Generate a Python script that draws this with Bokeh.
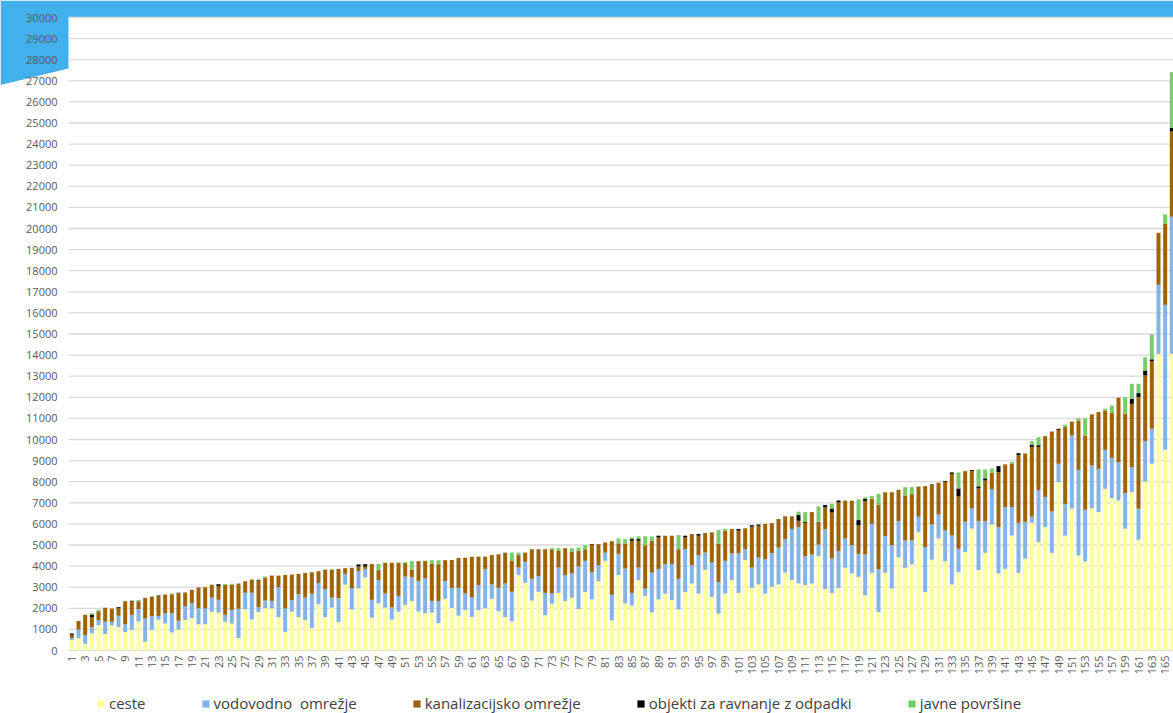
import math
from bokeh.plotting import figure
from bokeh.models import ColumnDataSource, Range1d, Legend, LegendItem
from bokeh.core.properties import value
from bokeh.embed import file_html
from bokeh.resources import INLINE

# ---- data -----------------------------------------------------------------
categories = list(range(1, 167))

ceste = [
    480, 580, 320, 800, 1200, 780, 1180, 1100, 880, 980,
    1380, 420, 980, 1460, 1280, 850, 990, 1440, 1540, 1250,
    1250, 1840, 1790, 1360, 1280, 580, 1950, 1470, 1820, 2010,
    2000, 1580, 880, 1840, 1580, 1440, 1070, 2190, 1580, 2030,
    1340, 3120, 1940, 2940, 3460, 1550, 2240, 2030, 1470, 1840,
    2160, 2350, 1840, 1760, 1790, 1300, 2450, 2020, 1650, 1910,
    1590, 1910, 2000, 2450, 1860, 1590, 1380, 3580, 3210, 2370,
    2780, 1670, 2210, 2730, 2340, 2500, 1970, 2770, 2420, 3290,
    4250, 1430, 3580, 2230, 2130, 3340, 2580, 1810, 2420, 2690,
    2390, 1940, 2770, 3180, 2690, 3820, 2540, 1750, 2700, 3340,
    2730, 4290, 2970, 3130, 2700, 3020, 3130, 3690, 3340, 3180,
    3100, 3180, 4470, 2920, 2720, 2970, 3920, 3650, 3490, 2610,
    3680, 1820, 3680, 2940, 4420, 3920, 4080, 5610, 2770, 4300,
    5310, 4230, 3130, 3710, 4660, 5780, 3810, 4630, 5970, 3650,
    3870, 5450, 3680, 4350, 6050, 5140, 5850, 4630, 7980, 5450,
    6720, 4500, 4220, 6750, 6560, 7660, 7220, 7110, 5770, 7510,
    5250, 8010, 8850, 14060, 9510, 14060,
]

vodovodno = [
    100, 420, 420, 300, 240, 580, 180, 550, 370, 720,
    570, 1100, 650, 170, 480, 910, 420, 670, 700, 750,
    750, 670, 610, 340, 640, 1400, 790, 1270, 230, 360,
    350, 1420, 1120, 540, 1090, 1070, 1620, 1010, 1330, 480,
    1140, 510, 1000, 820, 410, 850, 1090, 670, 580, 750,
    1340, 1120, 1460, 1660, 560, 1040, 840, 950, 1320, 790,
    940, 1190, 1850, 680, 1110, 1590, 1400, 350, 990, 1030,
    750, 1060, 490, 1200, 1240, 1160, 2010, 1480, 1300, 750,
    390, 1210, 1000, 1650, 600, 590, 350, 1880, 1430, 1400,
    1700, 1460, 2030, 870, 1830, 820, 1630, 1490, 1550, 1260,
    1870, 510, 960, 1270, 1620, 1590, 1750, 1590, 2420, 2660,
    1370, 1370, 550, 2820, 1640, 1740, 1390, 1340, 1090, 1940,
    2320, 2020, 1740, 2050, 1710, 1290, 1130, 730, 2130, 1670,
    1140, 1460, 2320, 1110, 1440, 950, 2320, 1500, 1660, 2200,
    2920, 1340, 2370, 1750, 290, 2460, 1430, 1960, 870, 1500,
    3470, 4060, 2450, 2020, 2050, 1850, 1910, 1820, 1690, 1180,
    1470, 1910, 1660, 3270, 6870, 6500,
]

kanalizacijsko = [
    170, 400, 950, 480, 420, 670, 620, 380, 1090, 620,
    390, 980, 930, 940, 880, 910, 1300, 640, 640, 980,
    1000, 600, 660, 1420, 1200, 1200, 540, 620, 1240, 1090,
    1200, 550, 1580, 1220, 960, 1170, 1020, 560, 910, 1310,
    1390, 270, 980, 220, 110, 1700, 480, 1460, 2110, 1570,
    640, 370, 940, 820, 1760, 1750, 990, 1320, 1420, 1700,
    1910, 1350, 600, 1390, 1590, 1430, 1470, 590, 440, 1400,
    1270, 2070, 2100, 790, 1270, 1010, 740, 550, 1290, 1000,
    480, 2540, 500, 1190, 2470, 1270, 2060, 1510, 1510, 1350,
    1350, 1400, 560, 1470, 920, 930, 1430, 1830, 1430, 1160,
    1080, 990, 1940, 1510, 1680, 1420, 1350, 1080, 600, 310,
    1580, 2010, 1080, 1050, 2180, 2310, 1790, 2110, 1350, 2530,
    1190, 3080, 2080, 2510, 1490, 2140, 2200, 1430, 2890, 1860,
    1500, 2300, 2920, 2480, 2400, 1770, 1550, 1930, 790, 2600,
    2030, 2070, 3210, 3240, 3310, 2050, 2880, 3790, 1610, 3640,
    660, 2340, 3520, 2420, 2690, 1870, 2150, 3050, 3760, 3000,
    5290, 3120, 3190, 2470, 3860, 4050,
]

objekti = [
    50, 0, 0, 100, 0, 0, 0, 30, 0, 40,
    0, 0, 0, 40, 0, 0, 30, 0, 0, 0,
    0, 0, 80, 0, 0, 0, 0, 0, 40, 0,
    0, 0, 0, 0, 0, 0, 0, 0, 0, 0,
    0, 0, 0, 100, 110, 0, 0, 0, 0, 0,
    0, 0, 0, 0, 0, 0, 0, 0, 0, 0,
    0, 0, 0, 0, 0, 20, 0, 0, 0, 0,
    0, 0, 0, 0, 0, 0, 0, 0, 30, 0,
    0, 0, 0, 0, 80, 80, 0, 0, 80, 0,
    0, 0, 80, 0, 80, 0, 0, 0, 0, 0,
    80, 0, 70, 60, 0, 0, 0, 0, 0, 270,
    60, 0, 0, 100, 190, 90, 0, 0, 250, 110,
    0, 0, 0, 0, 0, 0, 0, 0, 0, 40,
    0, 40, 70, 380, 0, 50, 100, 100, 0, 290,
    0, 0, 90, 0, 110, 80, 0, 0, 50, 0,
    0, 0, 0, 0, 0, 0, 0, 0, 0, 240,
    190, 230, 100, 0, 0, 150,
]

javne = [
    0, 0, 0, 100, 70, 0, 20, 0, 0, 0,
    50, 0, 0, 0, 20, 30, 0, 0, 0, 0,
    0, 20, 0, 30, 40, 0, 0, 0, 40, 50,
    0, 0, 0, 0, 0, 0, 0, 0, 30, 40,
    0, 0, 0, 0, 0, 0, 290, 0, 0, 20,
    50, 400, 0, 20, 170, 190, 0, 0, 0, 0,
    0, 0, 0, 0, 0, 0, 390, 120, 0, 0,
    0, 0, 50, 130, 0, 180, 160, 190, 0, 0,
    0, 0, 230, 210, 80, 130, 420, 210, 0, 0,
    0, 670, 0, 0, 0, 0, 0, 640, 80, 0,
    0, 0, 0, 0, 0, 0, 0, 0, 0, 160,
    450, 0, 730, 0, 220, 0, 0, 0, 980, 80,
    130, 510, 0, 0, 0, 390, 330, 0, 0, 0,
    0, 0, 0, 760, 0, 0, 800, 420, 210, 0,
    0, 80, 0, 0, 160, 380, 0, 0, 0, 110,
    0, 110, 820, 0, 0, 80, 330, 0, 790, 710,
    440, 630, 1180, 0, 420, 2650,
]

series_names = ["ceste", "vodovodno  omrežje", "kanalizacijsko omrežje",
                "objekti za ravnanje z odpadki", "javne površine"]
series_colors = ["#ffff9b", "#84b4e6", "#9e6404", "#000000", "#78cc6a"]
y_ticks = list(range(0, 30001, 1000))
x_tick_labels = list(range(1, 167, 2))

# ---- layout geometry (canvas pixels) ---------------------------------------
W, H = 1173, 713
PLOT_L, PLOT_T, PLOT_B = 68, 17, 650         # plot area inside the canvas
X_LO, X_HI = 0.5, 166.25                     # category range shown (last bar cut at edge)
Y_LO, Y_HI = 0, 30000
px_per_x = (W - PLOT_L) / (X_HI - X_LO)
px_per_y = (PLOT_B - PLOT_T) / (Y_HI - Y_LO)


def dx(px):
    return X_LO + (px - PLOT_L) / px_per_x


def dy(py):
    return Y_LO + (PLOT_B - py) / px_per_y


p = figure(width=W, height=H, output_backend="svg", toolbar_location=None,
           x_range=Range1d(dx(0), dx(W)), y_range=Range1d(dy(H), dy(0)),
           min_border=0, min_border_left=0, min_border_right=0,
           min_border_top=0, min_border_bottom=0)
p.axis.visible = False
p.grid.visible = False
p.outline_line_color = None
p.background_fill_color = "white"
p.border_fill_color = "white"

# banner (decoration)
p.patch(x=[dx(0), dx(W), dx(W), dx(PLOT_L), dx(PLOT_L), dx(6), dx(0)],
        y=[dy(0), dy(0), dy(PLOT_T), dy(PLOT_T), dy(68), dy(83), dy(84.5)],
        fill_color="#42b0ec", line_color=None)

# gridlines and axis line
p.segment(x0=[X_LO] * len(y_ticks), x1=[dx(W)] * len(y_ticks), y0=y_ticks, y1=y_ticks,
          line_color="#d9d9d9", line_width=1.3)

# stacked bars
source = ColumnDataSource(dict(x=categories, s0=ceste, s1=vodovodno, s2=kanalizacijsko,
                               s3=objekti, s4=javne))
renderers = p.vbar_stack(["s0", "s1", "s2", "s3", "s4"], x="x", width=0.6,
                         color=series_colors, line_color=None, source=source)

# y tick labels
p.text(x=[dx(PLOT_L - 11)] * len(y_ticks), y=y_ticks, text=[str(t) for t in y_ticks],
       text_align="right", text_baseline="middle", text_font=value("Open Sans"),
       text_font_size=value("11px"), text_color="#595959")

# x tick labels (rotated)
p.text(x=x_tick_labels, y=[dy(PLOT_B + 5)] * len(x_tick_labels),
       text=[str(t) for t in x_tick_labels], angle=math.pi / 2,
       text_align="right", text_baseline="middle", text_font=value("Open Sans"),
       text_font_size=value("11px"), text_color="#595959")

legend = Legend(items=[LegendItem(label=n, renderers=[r]) for n, r in zip(series_names, renderers)],
                orientation="horizontal", location=(96, 0), margin=0, padding=0,
                spacing=55, glyph_width=9, glyph_height=9, label_standoff=4,
                label_height=17, label_text_font="Open Sans", label_text_font_size="15px",
                label_text_color="#404040", border_line_color=None,
                background_fill_alpha=0)
p.add_layout(legend, "center")

open("out.html", "w").write(file_html(p, INLINE))
